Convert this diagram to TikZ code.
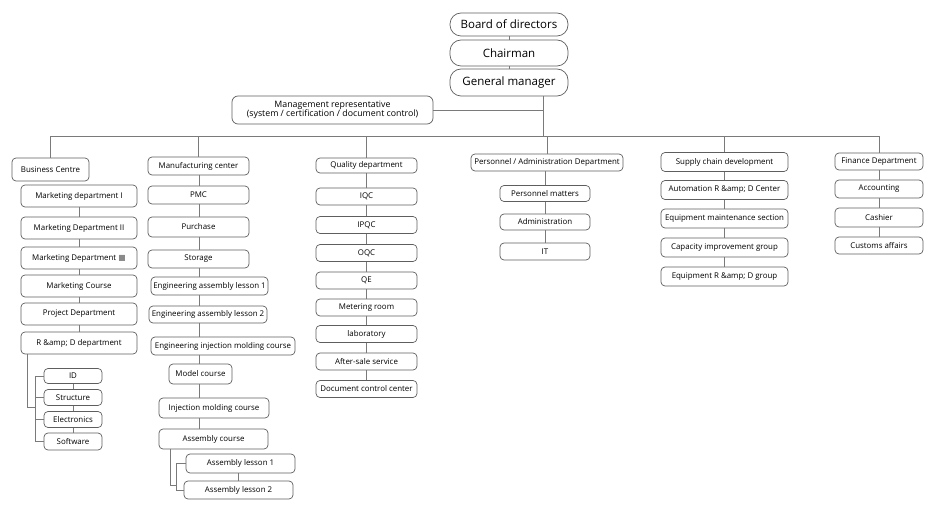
\documentclass[tikz,border=0pt]{standalone}
\usepackage{fontspec}
\setmainfont{Open Sans}
\newfontfamily\symfont{DejaVu Sans}
\usepackage{xcolor}
\usepackage{tikz}
\usetikzlibrary{positioning,calc}
\definecolor{unitBorder}{HTML}{5E5E5E}
\definecolor{linkGray}{HTML}{7A7A7A}
\definecolor{boxMark}{HTML}{8A8A8A}

\begin{document}
\begin{tikzpicture}[
  x=1bp, y=-1bp,
  unit/.style={draw=unitBorder, fill=white, rounded corners=4bp, inner sep=0pt,
    line width=0.7bp, align=center, font=\fontsize{7.9bp}{9bp}\selectfont},
  topunit/.style={unit, rounded corners=11bp, minimum width=118bp,
    font=\fontsize{11.5bp}{13bp}\selectfont},
  link/.style={draw=linkGray, line width=0.7bp},
  bcol/.style={unit, minimum width=116bp, minimum height=22bp},
  rdcol/.style={unit, minimum width=58bp, minimum height=16bp},
  qcol/.style={unit, minimum width=101bp, minimum height=17bp},
  pcol/.style={unit, minimum width=90bp, minimum height=16bp},
  scol/.style={unit, minimum width=127bp, minimum height=19bp},
  fcol/.style={unit, minimum width=88bp, minimum height=18bp},
]
  \useasboundingbox (0,0) rectangle (939,513);

  % top of the company
  \node[topunit, minimum height=23bp] (bod) at (509,24.5) {Board of directors};
  \node[topunit, minimum height=26bp] (chair) at (509,53) {Chairman};
  \node[topunit, minimum height=27bp] (gm) at (509,82.5) {General manager};
  \node[unit, minimum width=201bp, minimum height=28bp, rounded corners=6bp,
    font=\fontsize{8.8bp}{9.5bp}\selectfont] (mrep) at (332.5,110)
    {Management representative\\(system / certification / document control)};
  \coordinate (hub) at (543,136);

  % Business Centre
  \node[unit, minimum width=77bp, minimum height=23bp] (bc) at (50.5,169.5) {Business Centre};
  \node[bcol] (mkt1) at (79,196) {Marketing department I};
  \node[bcol] (mkt2) at (79,228) {Marketing Department II};
  \node[bcol] (mkt3) at (79,258) {Marketing Department {\symfont\color{boxMark}■}};
  \node[bcol] (mktc) at (79,286) {Marketing Course};
  \node[bcol] (proj) at (79,314) {Project Department};
  \node[bcol] (rd) at (79,343) {R \&amp; D department};
  \node[rdcol, minimum height=15bp] (id) at (73,376) {ID};
  \node[rdcol] (str) at (73,397.5) {Structure};
  \node[rdcol] (elec) at (73,419.5) {Electronics};
  \node[rdcol, minimum height=17bp] (sw) at (73,441.5) {Software};
  \coordinate (rdx) at (27,0);
  \coordinate (rdj) at (35,407);

  % Manufacturing center
  \node[unit, minimum width=101bp, minimum height=18bp] (mc) at (198.5,166) {Manufacturing center};
  \node[unit, minimum width=101bp, minimum height=18bp] (pmc) at (198.5,195) {PMC};
  \node[unit, minimum width=101bp, minimum height=20bp] (pur) at (198.5,227) {Purchase};
  \node[unit, minimum width=101bp, minimum height=18bp] (sto) at (198.5,259) {Storage};
  \node[unit, minimum width=117bp, minimum height=18bp] (ea1) at (209.5,286) {Engineering assembly lesson 1};
  \node[unit, minimum width=118bp, minimum height=17bp] (ea2) at (208,314.5) {Engineering assembly lesson 2};
  \node[unit, minimum width=144bp, minimum height=18bp] (eim) at (223,346) {Engineering injection molding course};
  \node[unit, minimum width=63bp, minimum height=20bp] (mod) at (200.5,374) {Model course};
  \node[unit, minimum width=110bp, minimum height=20bp] (inj) at (214,408) {Injection molding course};
  \node[unit, minimum width=109bp, minimum height=20bp] (asm) at (213.5,439) {Assembly course};
  \node[unit, minimum width=109bp, minimum height=19bp] (al1) at (240.5,463.5) {Assembly lesson 1};
  \node[unit, minimum width=109bp, minimum height=18bp] (al2) at (238.5,490) {Assembly lesson 2};
  \coordinate (mspine) at (199,0);
  \coordinate (asx) at (170,0);
  \coordinate (asj) at (176,485);

  % Quality department
  \node[qcol, minimum height=15bp] (qd) at (366.5,165.5) {Quality department};
  \node[qcol] (iqc) at (366.5,196.5) {IQC};
  \node[qcol] (ipqc) at (366.5,225) {IPQC};
  \node[qcol] (oqc) at (366.5,253) {OQC};
  \node[qcol] (qe) at (366.5,280.5) {QE};
  \node[qcol] (met) at (366.5,307.5) {Metering room};
  \node[qcol] (lab) at (366.5,334) {laboratory};
  \node[qcol] (asv) at (366.5,361.5) {After-sale service};
  \node[qcol] (dcc) at (366.5,389) {Document control center};

  % Personnel / Administration
  \node[unit, minimum width=152bp, minimum height=17bp] (pad) at (547,162.5) {Personnel / Administration Department};
  \node[pcol] (pm) at (545,193.5) {Personnel matters};
  \node[pcol] (adm) at (545,222) {Administration};
  \node[pcol, minimum height=17bp] (it) at (545,251.5) {IT};

  % Supply chain
  \node[scol] (scd) at (724.5,162) {Supply chain development};
  \node[scol] (arc) at (724.5,190) {Automation R \&amp; D Center};
  \node[scol] (ems) at (724.5,218.5) {Equipment maintenance section};
  \node[scol] (cig) at (724.5,247.5) {Capacity improvement group};
  \node[scol] (erd) at (724.5,276.5) {Equipment R \&amp; D group};

  % Finance
  \node[fcol, minimum height=17bp] (fd) at (879,161.5) {Finance Department};
  \node[fcol] (acc) at (879,189) {Accounting};
  \node[fcol, minimum height=19bp] (cash) at (879,217.5) {Cashier};
  \node[fcol, minimum height=17bp] (cus) at (879,245.5) {Customs affairs};

  % lines
  \draw[link] (bod) -- (chair);
  \draw[link] (chair) -- (gm);
  \draw[link] (gm.south -| hub) -- (hub);
  \draw[link] (mrep.east) -- (mrep.east -| hub);
  \draw[link] (bc.north |- hub) -- (fd.north |- hub);
  \foreach \n in {bc,mc,qd,pad,scd,fd}
    \draw[link] (\n.north) -- (\n.north |- hub);

  \foreach \a/\b in {mkt1/mkt2,mkt2/mkt3,mkt3/mktc,mktc/proj,proj/rd,id/str,str/elec,elec/sw,
      qd/iqc,iqc/ipqc,ipqc/oqc,oqc/qe,qe/met,met/lab,lab/asv,asv/dcc,
      pad/pm,pm/adm,adm/it,scd/arc,arc/ems,ems/cig,cig/erd,fd/acc,acc/cash,cash/cus,al1/al2}
    \draw[link] (\a.south -| \b.north) -- (\b.north);
  \foreach \a/\b in {mc/pmc,pmc/pur,pur/sto,sto/ea1,ea1/ea2,ea2/eim,eim/mod,mod/inj,inj/asm}
    \draw[link] (\a.south -| mspine) -- (\b.north -| mspine);

  \draw[link] (rd.south -| rdx) |- (rdj);
  \draw[link] (id.west -| rdj) -- (sw.west -| rdj);
  \foreach \n in {id,str,elec,sw}
    \draw[link] (\n.west -| rdj) -- (\n.west);
  \draw[link] (asm.south -| asx) |- (asj);
  \draw[link] (al1.west -| asj) -- (al2.west -| asj);
  \foreach \n in {al1,al2}
    \draw[link] (\n.west -| asj) -- (\n.west);
\end{tikzpicture}
\end{document}
